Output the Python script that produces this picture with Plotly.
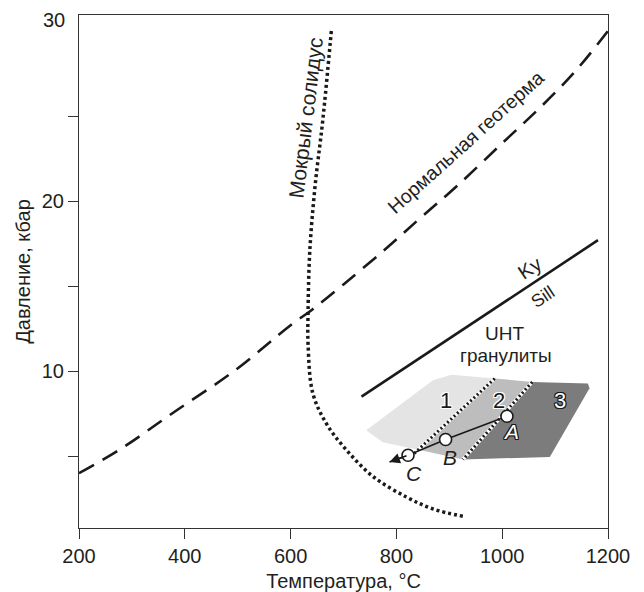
import plotly.graph_objects as go

# ---- data ----
geo_T = [200, 275, 380, 495, 600, 640, 700, 780, 845, 915, 1000, 1075, 1140, 1200]
geo_P = [4.0, 5.35, 7.6, 10.05, 12.7, 13.6, 15.1, 17.2, 19.0, 20.9, 23.4, 25.6, 27.7, 30.0]

sol_T = [677, 661, 646, 636, 633, 633, 642, 668, 706, 756, 819, 869, 929]
sol_P = [30.0, 24.8, 20.8, 16.9, 13.4, 11.6, 8.7, 6.9, 5.35, 3.8, 2.6, 1.9, 1.45]

kysill_T = [734, 1181]
kysill_P = [8.5, 17.7]

field1_T = [743, 774, 846, 986, 904, 869]
field1_P = [6.53, 5.82, 5.35, 9.57, 9.79, 9.47]
field2_T = [846, 926, 1057, 986]
field2_P = [5.35, 4.81, 9.37, 9.57]
field3_T = [926, 1090, 1165, 1162, 1057]
field3_P = [4.81, 4.96, 9.0, 9.28, 9.37]

bound12_T = [986, 834]
bound12_P = [9.57, 5.17]
bound23_T = [1057, 926]
bound23_P = [9.37, 4.81]

path_names = ["A", "B", "C"]
path_T = [1009, 893, 822]
path_P = [7.35, 5.98, 5.06]
arrow_tip_T = 787
arrow_tip_P = 4.66

x_ticks = [200, 400, 600, 800, 1000, 1200]
y_ticks = [5, 10, 15, 20, 25]
y_ticktext = ["", "10", "", "20", ""]

FONT = "Liberation Sans, Arial, sans-serif"
TXT = "#231f20"

fig = go.Figure()

def poly(T, P, color):
    fig.add_trace(go.Scatter(x=T + [T[0]], y=P + [P[0]], mode="lines", fill="toself",
                             fillcolor=color, line=dict(width=0, color=color),
                             hoverinfo="skip", showlegend=False))

poly(field1_T, field1_P, "#e4e4e4")
poly(field2_T, field2_P, "#bdbdbd")
poly(field3_T, field3_P, "#7c7c7c")

for bT, bP in [(bound12_T, bound12_P), (bound23_T, bound23_P)]:
    fig.add_trace(go.Scatter(x=bT, y=bP, mode="lines", line=dict(color="white", width=3.5),
                             hoverinfo="skip", showlegend=False))
    fig.add_trace(go.Scatter(x=bT, y=bP, mode="lines",
                             line=dict(color="#1a1a1a", width=3, dash="2px,2.5px"),
                             hoverinfo="skip", showlegend=False))

fig.add_trace(go.Scatter(x=geo_T, y=geo_P, mode="lines", line_shape="spline",
                         line=dict(color="#1a1a1a", width=2.6, dash="17px,10px"),
                         hoverinfo="skip", showlegend=False))
fig.add_trace(go.Scatter(x=sol_T, y=sol_P, mode="lines", line_shape="spline",
                         line=dict(color="#1a1a1a", width=3.5, dash="3px,3px"),
                         hoverinfo="skip", showlegend=False))
fig.add_trace(go.Scatter(x=kysill_T, y=kysill_P, mode="lines",
                         line=dict(color="#1a1a1a", width=2.6),
                         hoverinfo="skip", showlegend=False))

# P-T path
fig.add_trace(go.Scatter(x=path_T + [arrow_tip_T], y=path_P + [arrow_tip_P], mode="lines",
                         line=dict(color="#1a1a1a", width=1.6),
                         hoverinfo="skip", showlegend=False))
fig.add_annotation(x=arrow_tip_T, y=arrow_tip_P, ax=path_T[-1], ay=path_P[-1],
                   xref="x", yref="y", axref="x", ayref="y", text="",
                   showarrow=True, arrowhead=2, arrowsize=1.3, arrowwidth=1.6,
                   arrowcolor="#1a1a1a")
fig.add_trace(go.Scatter(x=path_T, y=path_P, mode="markers",
                         marker=dict(size=12, color="white",
                                     line=dict(color="#1a1a1a", width=1.6)),
                         hoverinfo="skip", showlegend=False))

halo_w = "1px 1px 0 white, -1px -1px 0 white, 1px -1px 0 white, -1px 1px 0 white, 0 1px 0 white, 0 -1px 0 white, 1px 0 0 white, -1px 0 0 white"
halo_b = halo_w.replace("white", "#1a1a1a")

def label(text, T, P, size=20, color=TXT, angle=0, shadow=None, italic=False):
    f = dict(family=FONT, size=size, color=color)
    if shadow:
        f["shadow"] = shadow
    if italic:
        f["style"] = "italic"
    fig.add_annotation(x=T, y=P, xref="x", yref="y", text=text, showarrow=False,
                       textangle=angle, font=f)

label("1", 894, 8.29, size=22, shadow=halo_w, color="#1a1a1a")
label("2", 994, 8.29, size=22, shadow=halo_w, color="#1a1a1a")
label("3", 1109, 8.29, size=22, shadow=halo_b, color="white")
label("A", 1017, 6.43, size=21, shadow=halo_b, color="white", italic=True)
label("B", 901, 4.94, size=21, italic=True)
label("C", 833, 4.0, size=21, italic=True)
label("UHT", 1005, 12.24, size=19)
label("гранулиты", 1008, 10.94, size=19)
label("Ky", 1052, 16.06, size=20, angle=-33.5)
label("Sill", 1077, 14.35, size=18, angle=-33.5)
label("Нормальная геотерма", 931, 23.45, size=19.5, angle=-42)
label("Мокрый солидус", 629, 24.9, size=21, angle=-83)

# top "30" tick label
fig.add_annotation(x=0, y=1, xref="paper", yref="paper", text="30", showarrow=False,
                   xanchor="right", yanchor="top", xshift=-12, yshift=8,
                   font=dict(family=FONT, size=20, color=TXT))

axis_common = dict(showline=True, linecolor="#333333", linewidth=1.2, mirror=True,
                   showgrid=False, zeroline=False, ticks="outside", ticklen=10,
                   tickwidth=1.2, tickcolor="#333333", automargin=False,
                   tickfont=dict(family=FONT, size=20, color=TXT))

# the page adds an 8px body margin, so the figure is 8px smaller with 8px less left/top margin
fig.update_layout(
    width=636, height=584,
    margin=dict(l=71, r=36, t=7, b=64),
    paper_bgcolor="white", plot_bgcolor="white",
    showlegend=False,
    xaxis=dict(range=[200, 1200], tickvals=x_ticks,
               title=dict(text="Температура, °C", standoff=7,
                          font=dict(family=FONT, size=20, color=TXT)),
               **axis_common),
    yaxis=dict(range=[0.78, 30.94], tickvals=y_ticks, ticktext=y_ticktext,
               title=dict(text="Давление, кбар", standoff=5,
                          font=dict(family=FONT, size=20, color=TXT)),
               **axis_common),
)

fig.write_html("out.html")
